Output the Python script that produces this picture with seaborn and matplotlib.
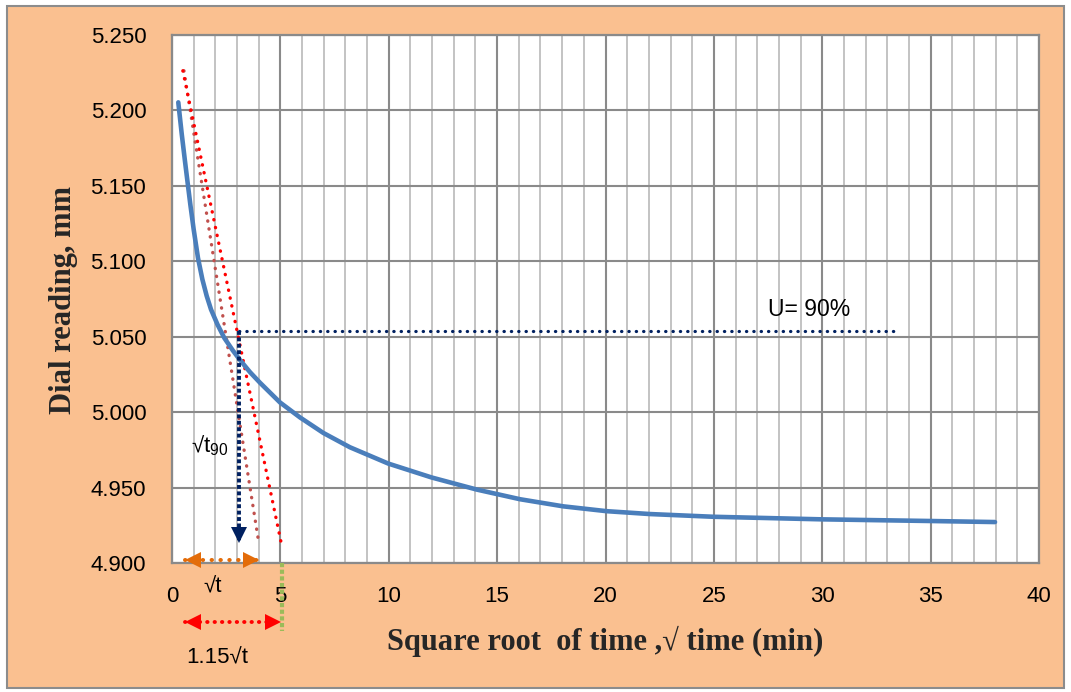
import matplotlib
matplotlib.use("Agg")
import matplotlib.pyplot as plt
import matplotlib.transforms as mtransforms
from matplotlib.patches import Rectangle
import numpy as np
import pandas as pd
import seaborn as sns

# ---------------- data ----------------
sqrt_time = [0.29, 0.45, 0.60, 0.72, 0.85, 1.00, 1.20, 1.40, 1.60, 1.80, 2.10,
             2.42, 2.80, 3.14, 3.60, 4.06, 4.98, 5.91, 6.98, 8.21, 9.98, 11.98,
             14.06, 16.06, 18.05, 20.05, 22.05, 24.97, 29.97, 34.97, 37.97]
dial_reading = [5.2051, 5.1840, 5.1660, 5.1520, 5.1370, 5.1210, 5.1020, 5.0880,
                5.0770, 5.0680, 5.0580, 5.0490, 5.0410, 5.0345, 5.0265, 5.0195,
                5.0065, 4.9965, 4.9863, 4.9768, 4.9660, 4.9568, 4.9488, 4.9424,
                4.9377, 4.9345, 4.9326, 4.9308, 4.9291, 4.9280, 4.9273]

tangent_x = [0.55, 4.00]          # initial tangent line
tangent_y = [5.226, 4.914]
tangent115_x = [0.50, 5.06]       # 1.15 x abscissa line
tangent115_y = [5.226, 4.912]
u90_x = [3.08, 33.3]              # U = 90 % level
u90_y = [5.0535, 5.0535]
t90_x = [3.08, 3.08]              # drop to sqrt(t90)
t90_y = [5.0535, 4.914]
sqrt_t_x = [0.60, 4.03]           # sqrt(t) span
sqrt_t_y = 4.9025
span115_x = [0.60, 5.03]          # 1.15 sqrt(t) span
span115_y = 4.8612
green_x = [5.09, 5.09]
green_y = [4.900, 4.8553]

x_ticks = list(range(0, 41, 5))
y_ticks = [4.900, 4.950, 5.000, 5.050, 5.100, 5.150, 5.200, 5.250]
y_ticklabels = ["4.900", "4.950", "5.000", "5.050", "5.100", "5.150", "5.200", "5.250"]

x_label = "Square root  of time ,\u221a time (min)"
y_label = "Dial reading, mm"

df = pd.DataFrame({"sqrt_time": sqrt_time, "dial": dial_reading})

# ---------------- styling ----------------
sns.set_theme(style="white")
plt.rcParams["font.family"] = ["Liberation Sans", "DejaVu Sans"]
plt.rcParams["mathtext.default"] = "regular"

W, H = 1071, 692
fig = plt.figure(figsize=(W / 100, H / 100), dpi=100)
fig.patch.set_facecolor("white")
fig.patches.append(Rectangle((7 / W, 4 / H), (1064 - 7) / W, (687 - 5) / H,
                             transform=fig.transFigure, facecolor="#FAC090",
                             edgecolor="#8C8C8C", lw=1.5, zorder=-10))

ax = fig.add_axes([172 / W, 1 - 563.3 / H, (1039 - 172) / W, (563.3 - 34.5) / H])
ax.set_facecolor("white")

GRID_DARK = "#8A8A8A"
GRID_LIGHT = "#C3C3C3"

ax.set_xlim(0, 40)
ax.set_ylim(4.900, 5.250)
ax.set_xticks(x_ticks)
ax.set_xticks(range(0, 41, 1), minor=True)
ax.set_yticks(y_ticks)
ax.set_yticklabels(y_ticklabels)
ax.grid(which="major", axis="both", color=GRID_DARK, lw=1.5)
ax.grid(which="minor", axis="x", color=GRID_LIGHT, lw=1.4)
ax.set_axisbelow(True)
for s in ax.spines.values():
    s.set_color(GRID_DARK)
    s.set_linewidth(1.6)
ax.tick_params(axis="x", which="both", length=0, pad=16.5, labelsize=16, colors="black")
ax.tick_params(axis="y", which="major", length=5, width=1.4, color=GRID_DARK,
               direction="out", pad=13.5, labelsize=16, labelcolor="black")
ax.tick_params(axis="y", which="minor", length=0)

# main curve
sns.lineplot(data=df, x="sqrt_time", y="dial", ax=ax, color="#4A7EBB", lw=3.3,
             solid_capstyle="round", solid_joinstyle="round", zorder=5)
ax.set_xlabel("")
ax.set_ylabel("")

# construction lines
ax.plot(tangent_x, tangent_y, color="#C0504D", lw=2.4, ls=(0, (0.1, 2.3)),
        dash_capstyle="round", zorder=4)
ax.plot(tangent115_x, tangent115_y, color="#FF0000", lw=2.4, ls=(0, (0.1, 2.3)),
        dash_capstyle="round", zorder=4)
ax.plot(u90_x, u90_y, color="#002060", lw=2.3, ls=(0, (0.1, 2.2)),
        dash_capstyle="round", zorder=6)
ax.plot(t90_x, t90_y, color="#002060", lw=2.8, ls=(0, (1, 0.65)),
        dash_capstyle="butt", zorder=6)

def head(x, y, marker, color, dx=0.0, dy=0.0, size=11):
    tr = mtransforms.offset_copy(ax.transData, fig=fig, x=dx, y=dy, units="points")
    ax.plot([x], [y], marker=marker, color=color, ms=size, mew=0, transform=tr,
            clip_on=False, zorder=7, ls="none")

head(t90_x[1], t90_y[1], "v", "#002060", dy=5.5)

# sqrt(t) span (orange)
ax.plot(sqrt_t_x, [sqrt_t_y, sqrt_t_y], color="#E36C09", lw=2.9,
        ls=(0, (0.1, 2.1)), dash_capstyle="round", clip_on=False, zorder=7)
head(sqrt_t_x[0], sqrt_t_y, "<", "#E36C09", dx=5.8, size=11.5)
head(sqrt_t_x[1], sqrt_t_y, ">", "#E36C09", dx=-5.8, size=11.5)

# 1.15 sqrt(t) span (red, below axis)
ax.plot(span115_x, [span115_y, span115_y], color="#FF0000", lw=2.8,
        ls=(0, (0.1, 1.8)), dash_capstyle="round", clip_on=False, zorder=7)
head(span115_x[0], span115_y, "<", "#FF0000", dx=5.8, size=11.5)
head(span115_x[1], span115_y, ">", "#FF0000", dx=-5.8, size=11.5)

# green drop line
ax.plot(green_x, green_y, color="#9BBB59", lw=3.0, ls=(0, (1, 0.6)),
        dash_capstyle="butt", clip_on=False, zorder=7)

# annotations
ax.text(1.75, 4.978, "\u221at$_{90}$", ha="center", va="center", fontsize=16, color="black")
ax.text(1.90, 4.884, "\u221at", ha="center", va="center", fontsize=16, color="black")
ax.text(2.07, 4.837, "1.15\u221at", ha="center", va="center", fontsize=16, color="black")
ax.text(29.4, 5.0677, "U= 90%", ha="center", va="center", fontsize=16.5, color="black")

# axis titles
fig.text(605 / W, 1 - 641 / H, x_label, ha="center", va="center", fontsize=22,
         fontweight="bold", family=["Liberation Serif", "DejaVu Serif"])
fig.text(64 / W, 1 - 300 / H, y_label, ha="center", va="center", fontsize=22,
         fontweight="bold", rotation=90, family=["Liberation Serif", "DejaVu Serif"])

fig.savefig("out.png", dpi=100, facecolor=fig.get_facecolor())
